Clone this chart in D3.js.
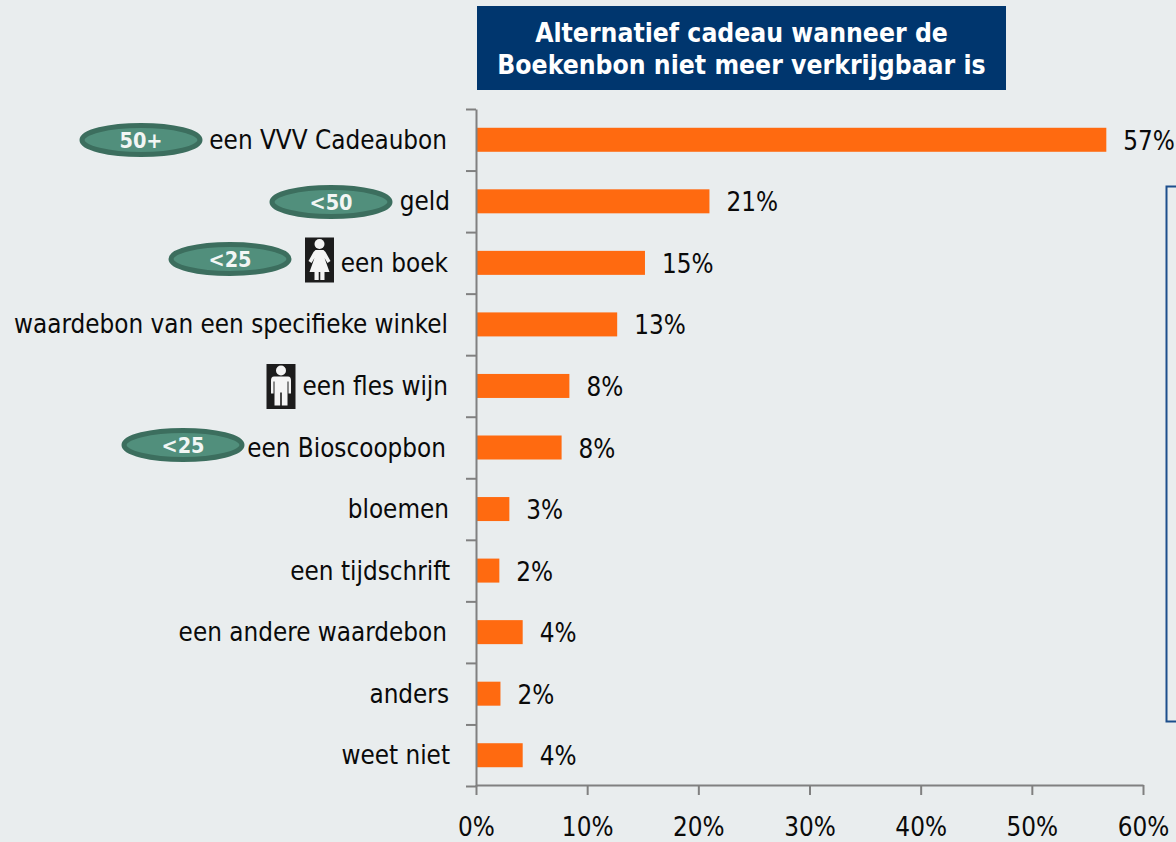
<!DOCTYPE html>
<html>
<head>
<meta charset="utf-8">
<script src="https://cdn.jsdelivr.net/npm/d3@7"></script>
<style>
  html, body { margin: 0; padding: 0; background: #e9edee; overflow: hidden; }
  svg { display: block; }
  text { font-family: "DejaVu Sans", sans-serif; font-stretch: condensed; fill: #0a0a0a; }
  .axis path, .axis line { stroke: #808080; stroke-width: 2; }
</style>
</head>
<body>
<svg id="chart"></svg>
<script>
"use strict";

// data
const categories = [
  "een VVV Cadeaubon", "geld", "een boek", "waardebon van een specifieke winkel",
  "een fles wijn", "een Bioscoopbon", "bloemen", "een tijdschrift",
  "een andere waardebon", "anders", "weet niet",
];
const values = [56.7, 21, 15.2, 12.7, 8.4, 7.7, 3, 2.1, 4.2, 2.2, 4.2];
const valueLabels = ["57%", "21%", "15%", "13%", "8%", "8%", "3%", "2%", "4%", "2%", "4%"];
const xTicks = [0, 10, 20, 30, 40, 50, 60];
const titleLines = ["Alternatief cadeau wanneer de", "Boekenbon niet meer verkrijgbaar is"];
const badgeTexts = ["50+", "<50", "<25", "<25"];
const iconKinds = ["woman", "man"];

const width = 1176;
const height = 842;
const plot = { left: 476, right: 1143, top: 109, bottom: 786 };
const fontSize = 25.8;

// right edge of each category label, they are not quite aligned in the original
const labelRight = [447, 450, 448, 448, 448, 446, 449, 450, 447, 449, 450];
// badges and icons sit by hand next to the labels
const badgePos = [[141, 140], [331, 202], [230, 259], [183, 445]];
const iconPos = [[319.5, 260], [281, 386.5]];

const svg = d3.select("#chart").attr("width", width).attr("height", height);

const x = d3.scaleLinear().domain([0, 60]).range([plot.left, plot.right]);
const y = d3.scaleBand().domain(categories).range([plot.top, plot.bottom]);
const yEdges = d3.scaleLinear().domain([0, categories.length]).range([plot.top, plot.bottom]);

// title box
svg.append("rect")
  .attr("x", 477).attr("y", 6)
  .attr("width", 529).attr("height", 84)
  .attr("fill", "#00366e");

svg.selectAll("text.title")
  .data(titleLines)
  .join("text")
  .attr("class", "title")
  .attr("x", 741.5)
  .attr("y", (d, i) => 42 + i * 31.5)
  .attr("text-anchor", "middle")
  .attr("font-size", 26.3)
  .attr("font-weight", "bold")
  .style("fill", "#fff")
  .text((d) => d);

// box cut off by the right edge
svg.append("rect")
  .attr("x", 1166.5).attr("y", 186.5)
  .attr("width", 40).attr("height", 535)
  .attr("fill", "none")
  .attr("stroke", "#1d4f8c")
  .attr("stroke-width", 2);

// bars
svg.selectAll("rect.bar")
  .data(categories)
  .join("rect")
  .attr("class", "bar")
  .attr("x", x(0))
  .attr("y", (d) => y(d) + y.bandwidth() / 2 - 12)
  .attr("width", (d, i) => x(values[i]) - x(0))
  .attr("height", 24)
  .attr("fill", "#ff6a10");

// axes
svg.append("g")
  .attr("class", "axis")
  .attr("transform", `translate(${plot.left},0)`)
  .call(d3.axisLeft(yEdges)
    .tickValues(d3.range(categories.length + 1))
    .tickFormat("")
    .tickSize(10)
    .tickSizeOuter(0));

const xAxis = svg.append("g")
  .attr("class", "axis")
  .attr("transform", `translate(0,${plot.bottom - 1})`)
  .call(d3.axisBottom(x)
    .tickValues(xTicks)
    .tickFormat((d) => d + "%")
    .tickSize(10)
    .tickSizeOuter(0));

// sits as low as the page allows
xAxis.selectAll("text")
  .attr("y", 50.5)
  .attr("dy", 0)
  .attr("font-size", fontSize)
  .attr("font-family", null);

// category labels
svg.selectAll("text.cat")
  .data(categories)
  .join("text")
  .attr("class", "cat")
  .attr("x", (d, i) => labelRight[i])
  .attr("y", (d) => y(d) + y.bandwidth() / 2 + 9)
  .attr("text-anchor", "end")
  .attr("font-size", fontSize)
  .text((d) => d);

// value labels
svg.selectAll("text.val")
  .data(categories)
  .join("text")
  .attr("class", "val")
  .attr("x", (d, i) => x(values[i]) + 17)
  .attr("y", (d) => y(d) + y.bandwidth() / 2 + 10)
  .attr("font-size", fontSize)
  .text((d, i) => valueLabels[i]);

// age badges
const badges = svg.selectAll("g.badge")
  .data(badgeTexts)
  .join("g")
  .attr("class", "badge")
  .attr("transform", (d, i) => `translate(${badgePos[i]})`);

badges.append("ellipse")
  .attr("rx", 59).attr("ry", 14.5)
  .attr("fill", "#518f7c")
  .attr("stroke", "#3c6e5e")
  .attr("stroke-width", 5);

badges.append("text")
  .attr("y", 8)
  .attr("text-anchor", "middle")
  .attr("font-size", 21.5)
  .attr("font-weight", "bold")
  .style("fill", "#f2f6f4")
  .text((d) => d);

// gender icons
const figure = {
  woman: "M-4,-10 L4,-10 L6,-8 L11,1 L8,3 L5,-2 L10,12 L5,12 L5,20 L0.8,20 L0.8,12 L-0.8,12 L-0.8,20 L-5,20 L-5,12 L-10,12 L-5,-2 L-8,3 L-11,1 L-6,-8 Z",
  man: "M-7,-10 L7,-10 Q10,-10 10,-6 L10,7 L7.5,7 L7.5,-5 L6.5,-5 L6.5,19 L0.8,19 L0.8,6 L-0.8,6 L-0.8,19 L-6.5,19 L-6.5,-5 L-7.5,-5 L-7.5,7 L-10,7 L-10,-6 Q-10,-10 -7,-10 Z",
};
const icons = svg.selectAll("g.icon")
  .data(iconKinds)
  .join("g")
  .attr("class", "icon")
  .attr("transform", (d, i) => `translate(${iconPos[i]})`);

icons.append("rect")
  .attr("x", -14.5).attr("y", -22.5)
  .attr("width", 29).attr("height", 45)
  .attr("fill", "#1c1c1c");

icons.append("circle").attr("cy", -16).attr("r", 5).attr("fill", "#f4f4f4");

icons.append("path").attr("d", (d) => figure[d]).attr("fill", "#f4f4f4");
</script>
</body>
</html>
